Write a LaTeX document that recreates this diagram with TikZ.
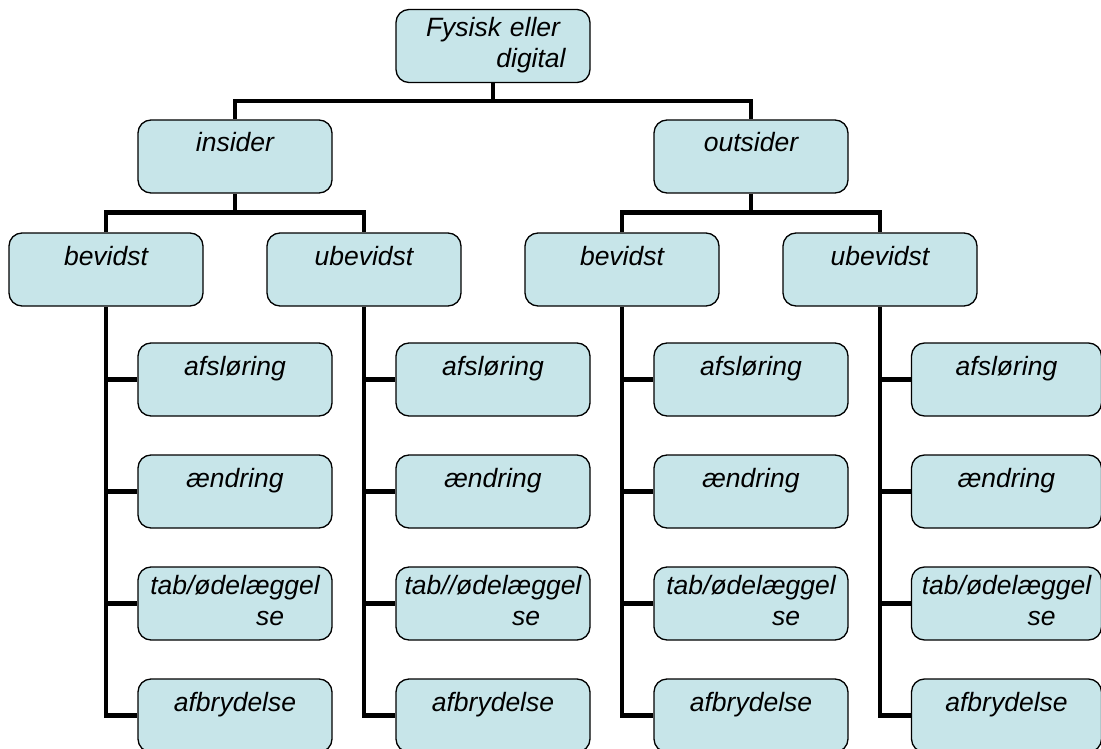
\documentclass[tikz,border=0pt]{standalone}
\usepackage{fontspec}
\setmainfont{Liberation Sans}
\usetikzlibrary{calc}
\definecolor{boxfill}{RGB}{199,229,233}

\tikzset{
box/.style={draw,line width=1.3pt,fill=boxfill,rounded corners=13pt,
  minimum width=194pt,minimum height=73pt,inner sep=0pt,text width=194pt,
  align=center,text height=32pt,text depth=41pt,
  font=\fontsize{26.5}{31}\selectfont\itshape},
two/.style={text height=27pt,text depth=46pt},
last/.style={minimum width=190pt,text width=190pt},
edge/.style={line width=4.5pt}
}

\begin{document}
\begin{tikzpicture}[x=1pt,y=-1pt]
\useasboundingbox (0,0) rectangle (1101,749);
\path
(493,46)      node[box,two] (1) {Fysisk eller\\\hspace*{76pt}digital}
+(-258,110.5) node[box] (2) {insider}
+(258,110.5)  node[box] (3) {outsider}
(2)
+(-129,113)   node[box] (4) {bevidst}
+(129,113)    node[box] (5) {ubevidst}
(3)
+(-129,113)   node[box] (6) {bevidst}
+(129,113)    node[box] (7) {ubevidst}
(4)
+(129,110)    node[box] (8) {afsløring}
+(129,222)    node[box] (9) {ændring}
+(129,334)    node[box,two] (10) {tab/ødelæggel\\\hspace*{70pt}se}
+(129,446)    node[box] (11) {afbrydelse}
(5)
+(129,110)    node[box] (12) {afsløring}
+(129,222)    node[box] (13) {ændring}
+(129,334)    node[box,two] (14) {tab//ødelæggel\\\hspace*{66pt}se}
+(129,446)    node[box] (15) {afbrydelse}
(6)
+(129,110)    node[box] (16) {afsløring}
+(129,222)    node[box] (17) {ændring}
+(129,334)    node[box,two] (18) {tab/ødelæggel\\\hspace*{70pt}se}
+(129,446)    node[box] (19) {afbrydelse}
(7)
+(126.5,110)  node[box,last] (20) {afsløring}
+(126.5,222)  node[box,last] (21) {ændring}
+(126.5,334)  node[box,two,last] (22) {tab/ødelæggel\\\hspace*{70pt}se}
+(126.5,446)  node[box,last] (23) {afbrydelse}
;
\draw[edge] (1.south) -- ++(0,18.5)
(2.north) -- ++(0,-18.5) -| (3.north)
(2.south) -- ++(0,20) (4.north) -- ++(0,-20) -| (5.north)
(3.south) -- ++(0,20) (6.north) -- ++(0,-20) -| (7.north)
(4.south) |- (8.west) (4.south) |- (9.west) (4.south) |- (10.west) (4.south) |- (11.west)
(5.south) |- (12.west) (5.south) |- (13.west) (5.south) |- (14.west) (5.south) |- (15.west)
(6.south) |- (16.west) (6.south) |- (17.west) (6.south) |- (18.west) (6.south) |- (19.west)
(7.south) |- (20.west) (7.south) |- (21.west) (7.south) |- (22.west) (7.south) |- (23.west)
;
\end{tikzpicture}
\end{document}
